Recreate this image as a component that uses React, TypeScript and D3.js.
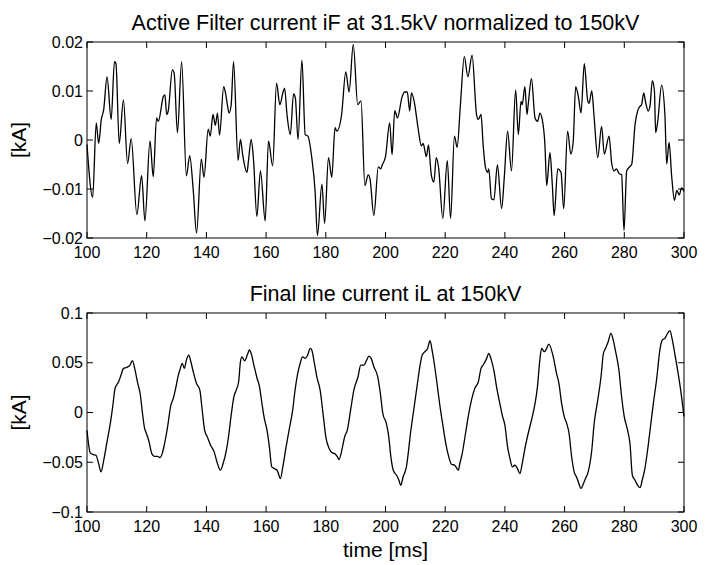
import React from "react";
import * as d3 from "d3";

// Active filter current iF (kA)
const filterTime = [
  100.0, 101.9, 103.1, 103.9, 104.8, 105.6, 106.7, 108.1, 109.2, 109.7, 110.8, 112.2, 113.6, 114.8, 116.7, 118.3, 119.4,
  121.1, 122.2, 123.3, 123.9, 125.6, 126.1, 126.7, 127.2, 128.6, 129.2, 130.3, 131.7, 133.3, 134.4, 135.6, 136.7, 138.3,
  139.2, 140.6, 141.3, 142.2, 143.0, 143.7, 144.4, 145.8, 146.4, 147.0, 147.6, 148.3, 149.1, 150.6, 151.4, 152.2, 153.6,
  154.1, 155.0, 155.8, 156.9, 158.1, 159.7, 160.8, 162.2, 163.5, 164.6, 165.6, 166.2, 167.0, 168.1, 169.2, 169.8, 170.7,
  172.0, 173.1, 174.0, 175.3, 176.4, 177.2, 178.7, 179.6, 180.9, 182.0, 183.1, 183.7, 185.3, 186.7, 187.8, 189.2, 190.7,
  191.8, 193.1, 194.2, 194.8, 196.1, 197.6, 198.4, 198.9, 200.0, 201.4, 202.2, 203.1, 204.0, 205.6, 206.4, 207.3, 208.1,
  208.7, 209.6, 210.9, 212.0, 212.6, 213.7, 214.4, 215.3, 216.2, 217.0, 217.8, 219.2, 220.7, 221.8, 223.1, 224.0, 225.1,
  226.4, 227.6, 229.0, 230.5, 231.1, 232.0, 232.7, 233.5, 234.2, 234.6, 235.5, 236.3, 237.5, 238.9, 239.8, 240.9, 242.2,
  243.6, 244.5, 245.4, 245.8, 246.7, 247.4, 247.8, 248.9, 250.1, 251.0, 251.7, 252.5, 253.4, 254.0, 255.1, 255.9, 256.5,
  257.7, 258.8, 259.7, 261.0, 262.1, 262.9, 263.7, 264.6, 265.5, 266.6, 267.7, 268.2, 269.1, 269.9, 271.1, 272.4, 273.3,
  274.9, 275.8, 276.6, 277.4, 278.2, 279.1, 279.9, 280.8, 281.6, 282.5, 283.6, 284.5, 285.3, 285.8, 286.5, 287.2, 288.0,
  288.6, 289.4, 290.1, 290.5, 291.2, 292.5, 293.6, 294.2, 295.0, 295.9, 296.8, 297.6, 298.4, 299.2, 300.0,
];
const filterCurrent = [
  -0.0009, -0.0117, 0.0035, -0.0007, 0.0042, 0.0062, 0.0129, 0.0042, 0.016, 0.0156, -0.0007, 0.0082, -0.0048, 0.0003, -0.0152, -0.0073, -0.0165,
  -0.0002, -0.0075, 0.0045, 0.0038, 0.0089, 0.0092, 0.0052, 0.0059, 0.0143, 0.0136, 0.0015, 0.016, -0.0073, -0.0032, -0.0103, -0.019, -0.0039,
  -0.0076, 0.0022, 0.0008, 0.0052, 0.003, 0.0055, 0.001, 0.0109, 0.0096, 0.0073, 0.0055, 0.0072, 0.016, -0.0042, 0.0001, -0.0032, -0.0066,
  -0.0042, 0.0001, -0.0042, -0.0156, -0.0063, -0.0165, -0.0002, -0.0053, 0.0116, 0.0072, 0.0096, 0.0106, 0.0052, 0.0011, 0.0094, 0.0086, 0.0001,
  0.0163, 0.0011, 0.0008, -0.0036, -0.0103, -0.0195, -0.009, -0.017, -0.0036, -0.0076, 0.0025, 0.0018, 0.0052, 0.0139, 0.0098, 0.0195, 0.0072,
  0.008, -0.0093, -0.0071, -0.0079, -0.0154, -0.0055, -0.0059, -0.0051, -0.0034, 0.0035, -0.003, 0.006, 0.0045, 0.0089, 0.0098, 0.0098, 0.0059,
  0.0096, 0.0079, 0.0025, -0.0012, -0.0007, -0.0034, -0.001, -0.0069, -0.0086, -0.0036, -0.0057, -0.016, -0.0042, -0.016, 0.0008, -0.0015, 0.0072,
  0.017, 0.0129, 0.0173, 0.0052, 0.0042, 0.0052, -0.0009, -0.0056, -0.0066, -0.0059, -0.012, -0.0122, -0.0051, -0.014, -0.0076, 0.0018, -0.0063,
  0.0102, 0.0011, 0.0079, 0.0072, 0.0109, 0.0052, 0.0072, 0.0125, 0.0045, 0.0038, 0.0055, 0.0042, -0.0009, -0.0093, -0.0026, -0.0093, -0.0154,
  -0.0059, -0.0066, -0.014, 0.0018, -0.0029, -0.0002, 0.0109, 0.0089, 0.0055, 0.0156, 0.0082, 0.0075, 0.01, 0.0046, -0.0036, 0.0028, -0.0029,
  0.0008, -0.0049, -0.0063, -0.0059, -0.0068, -0.0071, -0.0185, -0.0063, -0.0056, -0.0049, 0.0032, 0.006, 0.0069, 0.0072, 0.0096, 0.0075, 0.0059,
  0.0069, 0.0121, 0.0099, 0.0015, 0.0038, 0.0112, 0.0052, -0.0049, -0.0005, -0.0076, -0.0123, -0.0103, -0.0112, -0.0098, -0.0105,
];

// Final line current iL (kA)
const lineTime = [
  100.0, 101.1, 102.2, 103.0, 103.9, 104.7, 105.6, 106.7, 107.8, 108.6, 109.4, 110.6, 111.4, 112.2, 113.3, 114.4, 115.2,
  116.1, 117.0, 117.8, 118.6, 119.2, 120.0, 120.8, 121.7, 122.6, 123.7, 124.4, 125.2, 126.1, 127.0, 128.1, 128.9, 129.7,
  130.6, 131.1, 131.9, 132.6, 133.3, 134.1, 134.8, 135.6, 136.7, 137.8, 138.6, 139.4, 140.3, 141.4, 142.6, 143.7, 144.7,
  145.6, 146.7, 147.4, 148.3, 149.2, 150.0, 150.8, 151.4, 151.9, 152.8, 153.7, 154.4, 155.0, 155.9, 157.0, 157.8, 158.6,
  159.4, 160.3, 161.1, 161.9, 162.8, 163.7, 164.8, 165.6, 166.7, 167.8, 168.9, 169.7, 170.6, 171.4, 172.2, 173.1, 173.9,
  174.8, 175.3, 176.1, 177.0, 178.1, 179.2, 180.0, 181.1, 182.2, 183.0, 183.9, 184.4, 185.6, 186.3, 187.2, 188.3, 189.4,
  190.8, 191.7, 192.8, 193.7, 194.4, 195.2, 196.1, 197.3, 198.2, 199.1, 200.3, 201.1, 201.8, 202.6, 203.7, 204.5, 205.1,
  205.9, 207.0, 208.5, 209.6, 210.7, 211.5, 212.3, 213.2, 214.1, 214.9, 215.6, 216.5, 217.4, 218.2, 219.3, 220.2, 221.2,
  222.1, 223.2, 224.4, 224.9, 225.7, 226.8, 227.7, 228.8, 229.9, 231.1, 232.0, 232.7, 233.9, 234.6, 235.3, 236.4, 237.2,
  238.3, 239.1, 240.0, 240.9, 241.7, 242.5, 243.4, 244.2, 245.0, 245.8, 246.7, 247.8, 248.9, 250.1, 250.9, 251.7, 252.3,
  253.2, 254.0, 254.7, 256.2, 257.3, 258.1, 259.0, 259.9, 260.7, 261.5, 262.3, 263.2, 264.0, 264.8, 265.5, 266.3, 267.0,
  267.9, 269.1, 269.9, 271.1, 272.2, 273.0, 273.7, 274.6, 275.5, 276.3, 277.1, 278.2, 279.1, 280.0, 281.1, 281.9, 282.7,
  283.6, 284.5, 285.3, 286.0, 286.9, 287.8, 288.9, 289.8, 290.8, 292.0, 292.7, 293.6, 294.5, 295.3, 296.1, 297.0, 298.0,
  299.0, 300.0,
];
const lineCurrent = [
  -0.018, -0.0406, -0.0423, -0.043, -0.0514, -0.0597, -0.048, -0.0295, -0.0111, 0.0057, 0.0242, 0.0309, 0.0376, 0.0443, 0.0453, 0.0477, 0.052,
  0.0426, 0.0292, 0.0191, -0.001, -0.0144, -0.0218, -0.0295, -0.0413, -0.044, -0.044, -0.0453, -0.0413, -0.0295, -0.0144, 0.0074, 0.0141, 0.0242,
  0.0376, 0.0426, 0.0493, 0.0443, 0.0527, 0.0577, 0.051, 0.0409, 0.0292, 0.0225, 0.0023, -0.0178, -0.0245, -0.0329, -0.0396, -0.0513, -0.058,
  -0.0513, -0.0379, -0.0245, -0.0027, 0.0158, 0.0225, 0.0309, 0.051, 0.056, 0.052, 0.0577, 0.0628, 0.0594, 0.0477, 0.0342, 0.0258, 0.0091,
  -0.006, -0.0178, -0.0346, -0.0547, -0.0564, -0.058, -0.0664, -0.0547, -0.0346, -0.0161, 0.0023, 0.0225, 0.0393, 0.0493, 0.056, 0.0544, 0.0577,
  0.0644, 0.0628, 0.051, 0.0359, 0.0225, -0.0044, -0.0245, -0.0362, -0.0406, -0.0413, -0.0446, -0.0473, -0.0346, -0.0245, -0.0178, 0.0023, 0.0225,
  0.0359, 0.0477, 0.0477, 0.0527, 0.0567, 0.0544, 0.046, 0.037, 0.021, -0.001, -0.0111, -0.0245, -0.0446, -0.058, -0.0631, -0.0681, -0.0732,
  -0.0648, -0.0547, -0.0178, 0.0057, 0.0292, 0.046, 0.0577, 0.0611, 0.0644, 0.0721, 0.0628, 0.046, 0.0258, 0.0074, -0.0144, -0.0312, -0.0446,
  -0.052, -0.053, -0.058, -0.0513, -0.0413, -0.0211, -0.0044, 0.0124, 0.0242, 0.0309, 0.0443, 0.0477, 0.0544, 0.0594, 0.0544, 0.0409, 0.0258,
  0.0091, -0.0027, -0.0128, -0.0346, -0.0463, -0.0547, -0.053, -0.0564, -0.0614, -0.0513, -0.0362, -0.0211, -0.0077, 0.0091, 0.0258, 0.0527, 0.0644,
  0.0611, 0.0644, 0.0688, 0.056, 0.0393, 0.0292, 0.0091, -0.0044, -0.0111, -0.0211, -0.043, -0.0597, -0.0648, -0.0715, -0.0765, -0.0715, -0.0664,
  -0.0597, -0.0379, -0.0111, 0.0124, 0.0359, 0.0594, 0.0644, 0.0711, 0.0795, 0.0728, 0.0611, 0.0426, 0.0158, -0.0044, -0.0178, -0.0312, -0.0631,
  -0.0681, -0.0732, -0.0755, -0.0681, -0.0564, -0.0379, -0.0111, 0.0107, 0.0326, 0.0644, 0.0728, 0.0745, 0.0795, 0.0822, 0.0728, 0.0577, 0.04,
  0.02, -0.004,
];

const timeTicks = [100, 120, 140, 160, 180, 200, 220, 240, 260, 280, 300];
const filterTicks = [-0.02, -0.01, 0, 0.01, 0.02];
const lineTicks = [-0.1, -0.05, 0, 0.05, 0.1];

const W = 710;
const H = 565;
const LEFT = 87;
const RIGHT = 684;
const TICK = 6;
const FONT = "'Liberation Sans', Arial, Helvetica, sans-serif";

const fmt = (v: number) => String(v).replace("-", "\u2212");

function Panel({ top, bottom, title, times, values, yTicks }: any) {
  const x = d3.scaleLinear().domain([100, 300]).range([LEFT, RIGHT]);
  const y = d3.scaleLinear().domain([yTicks[0], yTicks[yTicks.length - 1]]).range([bottom, top]);
  const line = d3
    .line<number>()
    .x((_, i) => x(times[i]))
    .y((d) => y(d))
    .curve(d3.curveMonotoneX);

  return (
    <g>
      <text x={(LEFT + RIGHT) / 2} y={top - 12} textAnchor="middle" fontSize={21.5}>
        {title}
      </text>
      <path d={line(values) || ""} fill="none" stroke="#000" strokeWidth={1.3} strokeLinejoin="round" />
      <rect x={LEFT} y={top} width={RIGHT - LEFT} height={bottom - top} fill="none" stroke="#000" strokeWidth={1} />
      {timeTicks.map((t) => (
        <g key={"x" + t}>
          <line x1={x(t)} x2={x(t)} y1={bottom} y2={bottom - TICK} stroke="#000" />
          <line x1={x(t)} x2={x(t)} y1={top} y2={top + TICK} stroke="#000" />
          <text x={x(t)} y={bottom + 20} textAnchor="middle" fontSize={16}>
            {t}
          </text>
        </g>
      ))}
      {yTicks.map((v: number) => (
        <g key={"y" + v}>
          <line x1={LEFT} x2={LEFT + TICK} y1={y(v)} y2={y(v)} stroke="#000" />
          <line x1={RIGHT} x2={RIGHT - TICK} y1={y(v)} y2={y(v)} stroke="#000" />
          <text x={LEFT - 4} y={y(v)} dy="0.35em" textAnchor="end" fontSize={16}>
            {fmt(v)}
          </text>
        </g>
      ))}
      <text
        transform={`translate(26,${(top + bottom) / 2}) rotate(-90)`}
        textAnchor="middle"
        fontSize={21}
      >
        [kA]
      </text>
    </g>
  );
}

export default function App() {
  return (
    <svg
      width={W}
      height={H}
      style={{ position: "absolute", left: 0, top: 0, background: "#fff" }}
      fontFamily={FONT}
    >
      <rect width={W} height={H} fill="#fff" />
      <Panel
        top={42}
        bottom={238}
        title="Active Filter current iF at 31.5kV normalized to 150kV"
        times={filterTime}
        values={filterCurrent}
        yTicks={filterTicks}
      />
      <Panel
        top={313}
        bottom={512}
        title="Final line current iL at 150kV"
        times={lineTime}
        values={lineCurrent}
        yTicks={lineTicks}
      />
      <text x={(LEFT + RIGHT) / 2} y={557} textAnchor="middle" fontSize={21}>
        time [ms]
      </text>
    </svg>
  );
}
